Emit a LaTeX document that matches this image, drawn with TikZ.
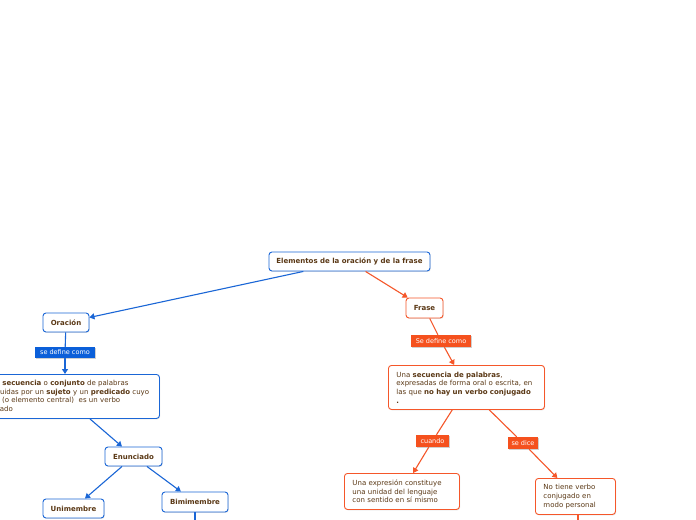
\documentclass[tikz,border=0pt]{standalone}
\usepackage{fontspec}
\setmainfont{DejaVu Sans}
\usetikzlibrary{arrows.meta,shadows}
\definecolor{bline}{HTML}{1A66D6}
\definecolor{bfill}{HTML}{0B5FD9}
\definecolor{oline}{HTML}{F5572A}
\definecolor{ofill}{HTML}{F5511E}
\definecolor{txt}{HTML}{5A3815}
\tikzset{
  box/.style={draw=#1, line width=0.9bp, rounded corners=3bp, fill=white, text=txt,
    font=\fontsize{7bp}{8.7bp}\selectfont, inner xsep=8bp, inner ysep=3bp,
    drop shadow={opacity=0.22, shadow xshift=0.7bp, shadow yshift=-0.9bp}},
  tbox/.style={box=#1, font=\fontsize{7bp}{8.7bp}\selectfont\bfseries, inner xsep=2bp},
  dbox/.style={box=#1, align=left, anchor=north west},
  lab/.style={fill=#1, text=white, font=\fontsize{6.5bp}{8bp}\selectfont, inner sep=1bp,
    drop shadow={opacity=0.2, shadow xshift=0.5bp, shadow yshift=-0.6bp}},
  bedge/.style={draw=bline, line width=1.1bp},
  oedge/.style={draw=oline, line width=1.1bp},
  tip/.style={-{Triangle[length=5bp,width=6bp]}},
}
\begin{document}
\begin{tikzpicture}[x=1bp,y=-1bp]
\useasboundingbox (0,0) rectangle (696,520);
\fill[white] (0,0) rectangle (696,520);

% nodes
\node[tbox=bline, minimum width=161bp, minimum height=19bp] (t) at (349.5,261.5) {Elementos de la oración y de la frase};
\node[tbox=bline, minimum width=46bp, minimum height=19bp] (or) at (66,322.5) {Oración};
\node[lab=bfill, minimum width=60bp, minimum height=11bp] (l1) at (65,352.5) {se define como};
\node[dbox=bline, text width=175bp, minimum height=44bp] (d1) at (-32,374) {Es una \textbf{secuencia} o \textbf{conjunto} de palabras\\ constituidas por un \textbf{sujeto} y un \textbf{predicado} cuyo\\ núcleo (o elemento central)\ \ es un verbo\\ conjugado};
\node[tbox=bline, minimum width=57bp, minimum height=19bp] (en) at (133.5,456.5) {Enunciado};
\node[tbox=bline, minimum width=61bp, minimum height=19bp] (un) at (73.5,508.5) {Unimembre};
\node[tbox=bline, minimum width=66bp, minimum height=20bp] (bi) at (195,502) {Bimimembre};

\node[tbox=oline, minimum width=37bp, minimum height=20bp] (fr) at (424.5,308) {Frase};
\node[lab=ofill, minimum width=60bp, minimum height=12bp] (l2) at (441,341) {Se define como};
\node[dbox=oline, text width=140bp, minimum height=44bp] (d2) at (388,365) {Una \textbf{secuencia de palabras},\\ expresadas de forma oral o escrita, en\\ las que \textbf{no hay un verbo conjugado}\\ \textbf{.}};
\node[lab=ofill, minimum width=33bp, minimum height=12bp] (l3) at (432.5,441) {cuando};
\node[lab=ofill, minimum width=30bp, minimum height=12bp] (l4) at (523,443) {se dice};
\node[dbox=oline, text width=99bp, minimum height=36bp] (ex) at (344,473) {Una expresión constituye\\ una unidad del lenguaje\\ con sentido en sí mismo};
\node[dbox=oline, text width=64bp, minimum height=36bp] (nt) at (535,478) {No tiene verbo\\ conjugado en\\ modo personal};

\coordinate (bd) at (195,530);
\coordinate (nd) at (578,530);

% connectors
\begin{scope}[on background layer/.style={}]
\end{scope}
\draw[bedge,tip] (t) -- (or);
\draw[bedge] (or) -- (l1);
\draw[bedge,tip] (l1) -- (l1 |- d1.north);
\draw[bedge,tip] (d1) -- (en);
\draw[bedge,tip] (en) -- (un);
\draw[bedge,tip] (en) -- (bi);
\draw[bedge] (bi) -- (bd);

\draw[oedge,tip] (t) -- (fr);
\draw[oedge] (fr) -- (l2);
\draw[oedge,tip] (l2) -- (d2);
\draw[oedge] (d2) -- (l3);
\draw[oedge,tip] (l3) -- (ex);
\draw[oedge] (d2) -- (l4);
\draw[oedge,tip] (l4) -- (nt);
\draw[oedge] (nt.south -| nd) -- (nd);

% redraw labels above lines
\node[lab=bfill, minimum width=60bp, minimum height=11bp] at (l1) {se define como};
\node[lab=ofill, minimum width=60bp, minimum height=12bp] at (l2) {Se define como};
\node[lab=ofill, minimum width=33bp, minimum height=12bp] at (l3) {cuando};
\node[lab=ofill, minimum width=30bp, minimum height=12bp] at (l4) {se dice};
\end{tikzpicture}
\end{document}
